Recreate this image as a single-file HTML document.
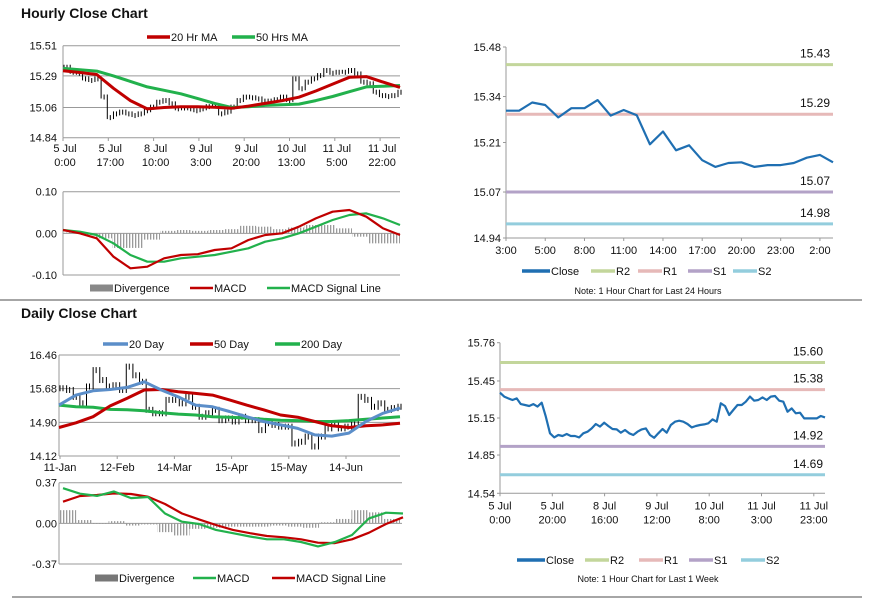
<!DOCTYPE html>
<html><head><meta charset="utf-8"><style>
html,body{margin:0;padding:0;background:#fff;}
svg{display:block;font-family:"Liberation Sans",Arial,sans-serif;}
</style></head><body>
<svg id="s" width="873" height="601" viewBox="0 0 873 601">
<defs><pattern id="hatch" width="3" height="4" patternUnits="userSpaceOnUse"><rect x="0" y="0" width="1.3" height="4" fill="#9a9a9a"/></pattern></defs>
</svg>
<script>
// ---------- DATA ----------
const hourlyTicks=[["5 Jul","0:00"],["5 Jul","17:00"],["8 Jul","10:00"],["9 Jul","3:00"],["9 Jul","20:00"],["10 Jul","13:00"],["11 Jul","5:00"],["11 Jul","22:00"]];
const hourlyPrice=[15.357,15.32,15.313,15.272,15.26,15.272,15.14,14.99,15.017,15.03,15.017,15.005,15.017,15.04,15.066,15.102,15.114,15.09,15.054,15.06,15.054,15.04,15.054,15.07,15.078,15.017,15.03,15.066,15.114,15.139,15.134,15.126,15.11,15.11,15.12,15.139,15.114,15.272,15.2,15.248,15.272,15.296,15.333,15.313,15.32,15.32,15.333,15.308,15.248,15.236,15.175,15.15,15.143,15.15,15.175];
const hourlyMA20=[15.328,15.315,15.30,15.20,15.11,15.05,15.06,15.066,15.066,15.062,15.054,15.07,15.09,15.11,15.135,15.18,15.23,15.28,15.285,15.245,15.206];
const hourlyMA50=[15.345,15.335,15.325,15.29,15.25,15.21,15.185,15.16,15.125,15.09,15.06,15.065,15.075,15.08,15.085,15.11,15.14,15.175,15.21,15.215,15.22];
const hourlyMACD=[0.008,0,-0.012,-0.056,-0.084,-0.08,-0.06,-0.052,-0.05,-0.04,-0.036,-0.016,-0.004,0,0.016,0.036,0.052,0.056,0.04,0.012,-0.004];
const hourlySignal=[0.008,0.004,-0.004,-0.024,-0.052,-0.068,-0.068,-0.06,-0.056,-0.052,-0.044,-0.036,-0.02,-0.012,0,0.016,0.032,0.044,0.048,0.036,0.02];
const hourlyDiv=[0.002,-0.004,-0.012,-0.035,-0.035,-0.015,0.006,0.008,0.006,0.008,0.01,0.018,0.016,0.01,0.014,0.02,0.02,0.012,-0.008,-0.024,-0.024];

const dailyTicks=["11-Jan","12-Feb","14-Mar","15-Apr","15-May","14-Jun"];
const dailyPrice=[15.69,15.65,15.49,15.34,15.73,16.11,15.88,15.73,15.76,15.65,16.19,15.99,15.84,15.19,15.11,15.11,15.42,15.42,15.34,15.49,15.26,15.03,15.11,15.19,14.95,14.99,14.92,15.03,14.95,14.95,14.72,14.88,14.84,14.80,14.80,14.41,14.45,14.57,14.34,14.57,14.76,14.88,14.76,14.80,14.88,15.49,15.42,15.26,15.34,15.19,15.23,15.26];
const daily20=[15.30,15.53,15.63,15.66,15.71,15.84,15.65,15.49,15.30,15.26,15.15,15.03,14.92,14.84,14.76,14.61,14.58,14.65,14.92,15.11,15.23];
const daily50=[14.78,14.89,15.03,15.28,15.46,15.65,15.66,15.61,15.57,15.53,15.42,15.30,15.19,15.07,15.02,14.92,14.82,14.78,14.82,14.84,14.88];
const daily200=[15.30,15.26,15.25,15.20,15.19,15.17,15.12,15.09,15.07,15.03,15.02,15.00,14.97,14.95,14.94,14.92,14.92,14.94,14.97,15.00,15.03];
const dailyMACD=[0.32,0.27,0.25,0.29,0.23,0.24,0.09,0.015,-0.006,-0.06,-0.09,-0.12,-0.145,-0.145,-0.17,-0.21,-0.17,-0.106,0.045,0.097,0.09];
const dailySignal=[0.197,0.249,0.258,0.273,0.267,0.243,0.176,0.09,0.036,-0.015,-0.06,-0.09,-0.115,-0.127,-0.145,-0.176,-0.18,-0.145,-0.085,-0.006,0.055];
const dailyDiv=[0.12,0.03,-0.005,0.02,-0.02,-0.01,-0.08,-0.11,-0.05,-0.04,-0.03,-0.03,-0.03,-0.02,-0.03,-0.04,0.01,0.04,0.12,0.1,0.04];

const h24Labels=["3:00","5:00","8:00","11:00","14:00","17:00","20:00","23:00","2:00"];
const h24Close=[15.300,15.300,15.323,15.316,15.281,15.307,15.307,15.330,15.286,15.302,15.287,15.205,15.241,15.188,15.202,15.160,15.141,15.152,15.154,15.141,15.146,15.146,15.152,15.167,15.175,15.154];
const h24Levels=[["R2",15.43],["R1",15.29],["S1",15.07],["S2",14.98]];

const wkLabels=[["5 Jul","0:00"],["5 Jul","20:00"],["8 Jul","16:00"],["9 Jul","12:00"],["10 Jul","8:00"],["11 Jul","3:00"],["11 Jul","23:00"]];
const wkClose=[15.355,15.323,15.309,15.296,15.309,15.263,15.255,15.247,15.263,15.242,15.274,15.161,15.026,14.993,15.012,15.004,15.020,15.004,15.004,14.993,15.026,15.039,15.066,15.101,15.080,15.112,15.085,15.061,15.058,15.031,15.053,15.026,15.012,15.039,15.058,15.066,15.012,14.990,15.026,15.061,15.031,15.093,15.120,15.128,15.120,15.101,15.074,15.085,15.093,15.098,15.107,15.139,15.120,15.269,15.247,15.174,15.215,15.255,15.255,15.282,15.323,15.290,15.296,15.317,15.296,15.323,15.328,15.290,15.282,15.201,15.228,15.188,15.193,15.147,15.147,15.147,15.147,15.166,15.155];
const wkLevels=[["R2",15.60],["R1",15.38],["S1",14.92],["S2",14.69]];

// ---------- HELPERS ----------
const S=document.getElementById('s');const NS='http://www.w3.org/2000/svg';
function mk(tag,attrs,name){const e=document.createElementNS(NS,tag);for(const k in attrs)e.setAttribute(k,attrs[k]);


S.appendChild(e);return e;}
function line(x1,y1,x2,y2,c,w,name){return mk('line',{x1,y1,x2,y2,stroke:c,'stroke-width':w},name);}
function text(x,y,s,size,anchor,name,weight){const t=mk('text',{x,y,'font-size':size,'text-anchor':anchor||'start',fill:'#111','font-weight':weight||'normal'},name);t.textContent=s;return t;}
function scale(d0,d1,r0,r1){return v=>r0+(v-d0)/(d1-d0)*(r1-r0);}
function poly(vals,xs,ys,c,w,name){const p=vals.map((v,i)=>xs(i).toFixed(1)+','+ys(v).toFixed(1)).join(' ');return mk('polyline',{points:p,fill:'none',stroke:c,'stroke-width':w,'stroke-linejoin':'round'},name);}
function legend(x,y,c,label,name,w,sw){line(x,y,x+(sw||23),y,c,w||3.5,name+'-swatch');text(x+(sw||23)+1,y+4,label,11,'start',name+'-label');}
const RED='#c00000',GREEN='#22b14c',BLUE='#5b8ec9',GRAY='#999';

text(21,18,'Hourly Close Chart',14,'start','hourly-title','bold');
text(21,318,'Daily Close Chart',14,'start','daily-title','bold');
line(0,300,862,300,'#888',1.5,'section-separator');
line(12,597,862,597,'#888',1.5,'bottom-separator');

function divBars(vals,x0,x1,ym,p){const n=vals.length,w=(x1-x0)/n;
vals.forEach((v,i)=>{const top=Math.min(ym(v),ym(0)),h=Math.abs(ym(v)-ym(0));mk('rect',{x:x0+i*w,y:top,width:w,height:h,fill:'url(#hatch)'},p+'-divergence-bar');});}

// ---------- HOURLY ----------
(function(){const x0=63,x1=400;const ys=scale(14.84,15.51,137.7,45.7);
[15.51,15.29,15.06,14.84].forEach(v=>{line(x0,ys(v),x1,ys(v),GRAY,1,'hourly-gridline');text(57,ys(v)+4,v.toFixed(2),11,'end','hourly-y-tick');});
line(x0,45.7,x0,137.7,GRAY,1,'hourly-y-axis');
hourlyTicks.forEach((t,i)=>{const x=x0+i*45.3;line(x,137.7,x,141,GRAY,1,'hourly-x-tickmark');text(x+2,152,t[0],11,'middle','hourly-x-tick');text(x+2,166,t[1],11,'middle','hourly-x-tick');});
const xp=scale(0,hourlyPrice.length-1,x0+1,x1-2);
hourlyPrice.forEach((v,i)=>{const p=i?hourlyPrice[i-1]:v;line(xp(i),ys(Math.max(v,p))-2,xp(i),ys(Math.min(v,p))+2,'#000',1,'hourly-price-bar');line(xp(i)+3,ys(v)-2,xp(i)+3,ys(v)+3,'#000',1,'hourly-price-bar');});
const xm=scale(0,hourlyMA20.length-1,x0,x1);
poly(hourlyMA50,xm,ys,GREEN,3,'hourly-50hr-ma-line');
poly(hourlyMA20,xm,ys,RED,3,'hourly-20hr-ma-line');
legend(147,37,RED,'20 Hr MA','legend-20hr-ma');legend(232,37,GREEN,'50 Hrs MA','legend-50hrs-ma');
const ym=scale(-0.10,0.10,275,191.7);
[0.10,0,-0.10].forEach(v=>{line(x0,ym(v),x1,ym(v),GRAY,1,'hourly-macd-gridline');text(57,ym(v)+4,v.toFixed(2),11,'end','hourly-macd-y-tick');});
line(x0,191.7,x0,275,GRAY,1,'hourly-macd-y-axis');
divBars(hourlyDiv,x0+1,x1,ym,'hourly');
poly(hourlySignal,xm,ym,GREEN,2.2,'hourly-macd-signal-line');
poly(hourlyMACD,xm,ym,RED,2.2,'hourly-macd-line');
legend(90,288,'#888','Divergence','legend-divergence',7);legend(190,288,RED,'MACD','legend-macd',2.5);legend(267,288,GREEN,'MACD Signal Line','legend-macd-signal',2.5);
})();

// ---------- DAILY ----------
(function(){const x0=59,x1=400;const ys=scale(14.12,16.46,456,355);
[16.46,15.68,14.90,14.12].forEach(v=>{line(x0,ys(v),x1,ys(v),GRAY,1,'daily-gridline');text(57,ys(v)+4,v.toFixed(2),11,'end','daily-y-tick');});
line(x0,355,x0,456,GRAY,1,'daily-y-axis');
dailyTicks.forEach((t,i)=>{const x=x0+1+i*57.2;line(x,456,x,459,GRAY,1,'daily-x-tickmark');text(x,471,t,11,'middle','daily-x-tick');});
const xp=scale(0,dailyPrice.length-1,x0+1,x1-2);
dailyPrice.forEach((v,i)=>{const p=i?dailyPrice[i-1]:v;line(xp(i),ys(Math.max(v,p))-3,xp(i),ys(Math.min(v,p))+3,'#000',1,'daily-price-bar');line(xp(i)+3,ys(v)-3,xp(i)+3,ys(v)+3,'#000',1,'daily-price-bar');});
const xm=scale(0,daily20.length-1,x0,x1);
poly(daily200,xm,ys,GREEN,3,'daily-200day-line');
poly(daily50,xm,ys,RED,3,'daily-50day-line');
poly(daily20,xm,ys,BLUE,3,'daily-20day-line');
legend(103,344,BLUE,'20 Day','legend-20-day',3.5,25);legend(190,344,RED,'50 Day','legend-50-day');legend(275,344,GREEN,'200 Day','legend-200-day',3.5,25);
const ym=scale(-0.37,0.37,564,482.7);
[0.37,0,-0.37].forEach(v=>{line(x0,ym(v),x1+2,ym(v),GRAY,1,'daily-macd-gridline');text(57,ym(v)+4,v.toFixed(2),11,'end','daily-macd-y-tick');});
line(x0,482.7,x0,564,GRAY,1,'daily-macd-y-axis');
divBars(dailyDiv,x0+1,x1,ym,'daily');
const xm2=scale(0,dailyMACD.length-1,x0+4,x1+3);
poly(dailySignal,xm2,ym,RED,2.2,'daily-macd-signal-line');
poly(dailyMACD,xm2,ym,GREEN,2.2,'daily-macd-line');
legend(95,578,'#777','Divergence','legend-daily-divergence',7);legend(193,578,GREEN,'MACD','legend-daily-macd',2.5);legend(272,578,RED,'MACD Signal Line','legend-daily-macd-signal',2.5);
})();

// ---------- LEVEL CHARTS ----------
const LVLC={R2:'#c3d69b',R1:'#e6b9b8',S1:'#b3a2c7',S2:'#93cddd'};
function levelChart(o){const ys=scale(o.min,o.max,o.yb,o.yt);
line(o.x0,o.yt,o.x0,o.yb,GRAY,1,o.p+'-y-axis');line(o.x0,o.yb,o.x1,o.yb,GRAY,1,o.p+'-x-axis');
o.ticks.forEach(v=>{line(o.x0-3,ys(v),o.x0,ys(v),GRAY,1,o.p+'-y-tickmark');text(o.x0-5,ys(v)+4,v.toFixed(2),11,'end',o.p+'-y-tick');});
o.levels.forEach(l=>{line(o.x0,ys(l[1]),o.x1,ys(l[1]),LVLC[l[0]],3,o.p+'-'+l[0].toLowerCase()+'-line');text(o.lx,ys(l[1])-7,l[1].toFixed(2),12,'end',o.p+'-'+l[0].toLowerCase()+'-value');});
const xs=scale(0,o.data.length-1,o.x0,o.x1);
poly(o.data,xs,ys,'#1f6fb2',2.2,o.p+'-close-line');
o.labels.forEach((t,i)=>{const x=o.x0+i*o.lstep;line(x,o.yb,x,o.yb+3,GRAY,1,o.p+'-x-tickmark');
if(Array.isArray(t)){text(x,o.yb+16,t[0],11,'middle',o.p+'-x-tick');text(x,o.yb+30,t[1],11,'middle',o.p+'-x-tick');}else text(x,o.yb+16,t,11,'middle',o.p+'-x-tick');});
const L=o.leg;legend(L[0],o.ly,'#1f6fb2','Close',o.p+'-legend-close',3.5,28);
['R2','R1','S1','S2'].forEach((k,i)=>legend(L[i+1],o.ly,LVLC[k],k,o.p+'-legend-'+k.toLowerCase(),3.5,24));
text(648,o.ny,o.note,9,'middle',o.p+'-note');}
levelChart({p:'h24',x0:506,x1:833,yt:47,yb:238,min:14.94,max:15.48,ticks:[15.48,15.34,15.21,15.07,14.94],levels:h24Levels,data:h24Close,labels:h24Labels,lstep:13.08*3,lx:830,leg:[522,591,638,688,733],ly:271,ny:294,note:'Note: 1 Hour Chart for Last 24 Hours'});
levelChart({p:'wk',x0:500,x1:825,yt:342.7,yb:493.3,min:14.54,max:15.76,ticks:[15.76,15.45,15.15,14.85,14.54],levels:wkLevels,data:wkClose,labels:wkLabels,lstep:52.3,lx:823,leg:[517,585,639,689,741],ly:560,ny:582,note:'Note: 1 Hour Chart for Last 1 Week'});
</script>
</body></html>
